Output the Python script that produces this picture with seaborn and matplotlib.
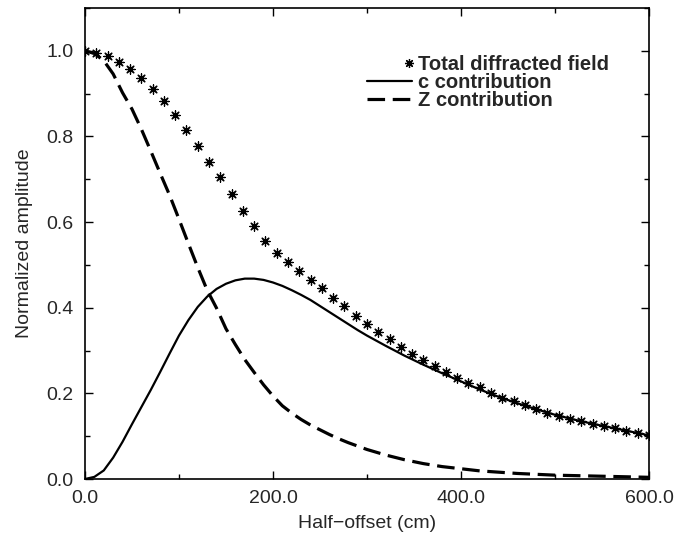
import numpy as np
import pandas as pd
import matplotlib
matplotlib.use('Agg')
import matplotlib.pyplot as plt
import seaborn as sns
from matplotlib.legend_handler import HandlerLine2D
from matplotlib.lines import Line2D
from matplotlib.ticker import MultipleLocator, FormatStrFormatter

# total diffracted field, read every 12 cm
offset_total = list(range(0, 601, 12))
total_field = [1.000, 0.995, 0.988, 0.975, 0.958, 0.936, 0.910, 0.882, 0.849, 0.815,
               0.778, 0.741, 0.705, 0.665, 0.627, 0.590, 0.556, 0.527, 0.507, 0.486,
               0.465, 0.445, 0.423, 0.403, 0.381, 0.362, 0.343, 0.326, 0.308, 0.292,
               0.277, 0.263, 0.249, 0.237, 0.224, 0.214, 0.202, 0.190, 0.182, 0.172,
               0.163, 0.155, 0.148, 0.141, 0.135, 0.129, 0.123, 0.118, 0.113, 0.108,
               0.103]

# c and Z contributions, read every 10 cm up to 300, then every 20 cm
offset_curve = list(range(0, 300, 10)) + list(range(300, 601, 20))
c_contrib = [0.000, 0.005, 0.020, 0.050, 0.087, 0.128, 0.168, 0.208, 0.250, 0.293,
             0.335, 0.371, 0.402, 0.426, 0.444, 0.456, 0.464, 0.468, 0.468, 0.465,
             0.459, 0.451, 0.441, 0.430, 0.418, 0.404, 0.390, 0.376, 0.362, 0.348,
             0.335, 0.311, 0.288, 0.267, 0.247, 0.228, 0.209, 0.192, 0.177, 0.163,
             0.150, 0.139, 0.129, 0.120, 0.111, 0.102]
z_contrib = [1.000, 0.994, 0.977, 0.946, 0.902, 0.864, 0.817, 0.766, 0.714, 0.663,
             0.607, 0.550, 0.494, 0.441, 0.399, 0.351, 0.314, 0.279, 0.249, 0.220,
             0.194, 0.171, 0.154, 0.139, 0.126, 0.115, 0.104, 0.094, 0.085, 0.077,
             0.069, 0.056, 0.045, 0.036, 0.029, 0.024, 0.019, 0.016, 0.013, 0.011,
             0.009, 0.008, 0.007, 0.006, 0.005, 0.004]

labels = ['Total diffracted field', 'c contribution', 'Z contribution']

df_total = pd.DataFrame({'x': offset_total, 'y': total_field})
df_curves = pd.DataFrame({'x': offset_curve, 'c': c_contrib, 'Z': z_contrib})

sns.set_style('ticks')
plt.rcParams['font.family'] = ['Liberation Sans', 'DejaVu Sans']

fig = plt.figure(figsize=(6.76, 5.42), dpi=100)
ax = fig.add_axes([0.1257, 0.1162, 0.8343, 0.869])

sns.lineplot(data=df_curves, x='x', y='c', ax=ax, color='black', lw=1.6)
sns.lineplot(data=df_curves, x='x', y='Z', ax=ax, color='black', lw=2.3)
ax.lines[-1].set_dashes((5.5, 2.4))
sns.scatterplot(data=df_total, x='x', y='y', ax=ax, marker=(8, 2, 0), s=45,
                color='black', linewidth=0.9, zorder=3)
sns.scatterplot(data=df_total, x='x', y='y', ax=ax, marker='o', s=4,
                color='black', linewidth=0, zorder=4)

ax.set_xlim(0, 600)
ax.set_ylim(0, 1.1)
ax.xaxis.set_major_locator(MultipleLocator(200))
ax.xaxis.set_minor_locator(MultipleLocator(100))
ax.yaxis.set_major_locator(MultipleLocator(0.2))
ax.yaxis.set_minor_locator(MultipleLocator(0.1))
ax.xaxis.set_major_formatter(FormatStrFormatter('%.1f'))
ax.yaxis.set_major_formatter(FormatStrFormatter('%.1f'))
ax.tick_params(which='both', direction='in', top=True, right=True,
               labelsize=14, pad=8, color='black', width=1)
ax.tick_params(which='major', length=6)
ax.tick_params(which='minor', length=3.5)
for sp in ax.spines.values():
    sp.set_color('black')
    sp.set_linewidth(1.2)

ax.set_xlabel('Half\u2212offset (cm)', fontsize=14, labelpad=6)
ax.set_ylabel('Normalized amplitude', fontsize=14, labelpad=10)


# star sits at the right end of its legend handle, like in the original
class RightMarker(HandlerLine2D):
    def get_xdata(self, legend, xdescent, ydescent, width, height, fontsize):
        xdata = np.array([-xdescent + width - 2])
        return xdata, xdata


h_total = Line2D([], [], color='black', marker=(8, 2, 0), markersize=6.5,
                 markeredgewidth=0.9, linestyle='none')
h_c = Line2D([], [], color='black', lw=1.6)
h_z = Line2D([], [], color='black', lw=2.3, dashes=(5.5, 2.4))
ax.legend([h_total, h_c, h_z], labels, loc='upper left',
          bbox_to_anchor=(0.4995, 0.901), frameon=False, borderpad=0,
          borderaxespad=0, handlelength=2.25, handletextpad=0.3,
          labelspacing=-0.04, prop={'size': 14.5, 'weight': 'bold'},
          handler_map={h_total: RightMarker(numpoints=2)})

fig.savefig('out.png', dpi=100)
